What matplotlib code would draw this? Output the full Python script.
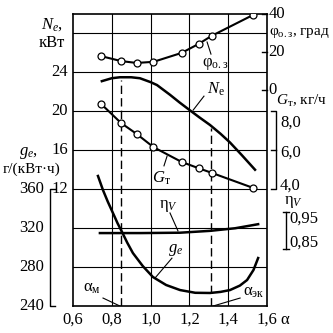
import matplotlib
matplotlib.use('Agg')
import matplotlib.pyplot as plt
import numpy as np

plt.rcParams['font.family'] = ['Liberation Serif', 'DejaVu Serif']
plt.rcParams['mathtext.fontset'] = 'custom'
plt.rcParams['mathtext.rm'] = 'Liberation Serif'
plt.rcParams['mathtext.it'] = 'Liberation Serif:italic'
plt.rcParams['mathtext.bf'] = 'Liberation Serif:bold'

# measured points (same alpha for phi and G_T)
alpha_pts = [0.745, 0.848, 0.928, 1.015, 1.16, 1.247, 1.315, 1.53]
phi_oz = [17.8, 15.2, 14.2, 14.8, 19.5, 24.2, 28.5, 39.6]      # deg
g_t = [8.38, 7.40, 6.84, 6.16, 5.40, 5.08, 4.84, 4.06]          # kg/h

alpha_ne = [0.749, 0.80, 0.842, 0.90, 0.945, 1.0, 1.033, 1.10, 1.15, 1.203, 1.25, 1.306, 1.36, 1.409, 1.47, 1.538]
ne = [23.1, 23.4, 23.5, 23.5, 23.4, 23.0, 22.7, 21.7, 20.9, 20.1, 19.4, 18.6, 17.7, 16.8, 15.5, 14.0]  # kW

alpha_ge = [0.729, 0.755, 0.78, 0.806, 0.83, 0.853, 0.88, 0.909, 0.96, 1.012, 1.08, 1.152, 1.23, 1.306, 1.36, 1.409, 1.46, 1.497, 1.53, 1.554]
ge = [373.6, 359, 347, 335.6, 325, 316, 305, 294.4, 281, 269.8, 261.6, 256.4, 253.6, 253.4, 254.5, 256.4, 261, 266.7, 277, 289.3]  # g/(kW h)

alpha_eta = [0.739, 0.95, 1.152, 1.306, 1.435, 1.554]
eta_v = [0.893, 0.893, 0.894, 0.899, 0.906, 0.917]

alpha_m = 0.848
alpha_ek = 1.31

x_ticks = [0.6, 0.8, 1.0, 1.2, 1.4, 1.6]
x_labels = ['0,6', '0,8', '1,0', '1,2', '1,4', '1,6']
ne_ticks = [12, 16, 20, 24]
ge_ticks = [240, 280, 320, 360]
phi_ticks = [0, 20, 40]
gt_ticks = [4.0, 6.0, 8.0]


# every scale is mapped onto one common grid unit (u), 0..7.5
def ne_u(v):
    return 3 + (np.asarray(v) - 12) / 4


def ge_u(v):
    return (np.asarray(v) - 240) / 40


def phi_u(v):
    return 5.55 + np.asarray(v) / 20 * 0.975


def gt_u(v):
    return 3 + (np.asarray(v) - 4) / 2


def eta_u(v):
    return 1.465 + (np.asarray(v) - 0.85) * 9.5


fig = plt.figure(figsize=(3.33, 3.33), dpi=100)
ax = fig.add_axes([0.219, 0.081, 0.583, 0.877])
ax.set_xlim(0.6, 1.6)
ax.set_ylim(0, 7.5)
ax.set_xticks([])
ax.set_yticks([])
for s in ax.spines.values():
    s.set_linewidth(1.2)

for xv in x_ticks[1:-1]:
    ax.axvline(xv, color='k', lw=0.8, zorder=1)
for yv in range(1, 8):
    ax.axhline(yv, color='k', lw=0.8, zorder=1)

lw = 1.8
ax.plot(alpha_pts, phi_u(phi_oz), 'o-', color='k', lw=1.5, ms=5, mfc='white', mec='k', mew=0.9, zorder=4)
ax.plot(alpha_pts, gt_u(g_t), 'o-', color='k', lw=1.5, ms=5, mfc='white', mec='k', mew=0.9, zorder=4)
ax.plot(alpha_ne, ne_u(ne), '-', color='k', lw=lw, zorder=3)
ax.plot(alpha_ge, ge_u(ge), '-', color='k', lw=lw, zorder=3)
ax.plot(alpha_eta, eta_u(eta_v), '-', color='k', lw=lw, zorder=3)

# dashed lines from the N_e curve down to alpha axis
for a, off in [(alpha_m, 0.08), (alpha_ek, 0.05)]:
    top = float(ne_u(np.interp(a, alpha_ne, ne))) - off
    ax.plot([a, a], [0, top], color='k', lw=1.0, ls=(0, (6, 3)), zorder=2)

fs = 12
# curve labels + leader lines
lbl = dict(ha='center', va='center', fontsize=fs, zorder=5)
ax.text(1.332, 6.22, r'$\mathrm{φ}_{\mathrm{о.з}}$', **lbl)
ax.plot([1.291, 1.311], [6.78, 6.47], color='k', lw=0.8)
ax.text(1.337, 5.57, r'$N_{\mathrm{e}}$', **lbl)
ax.plot([1.275, 1.219], [5.39, 5.03], color='k', lw=0.8)
ax.text(1.054, 3.29, r'$G_{\mathrm{т}}$', **lbl)
ax.plot([1.085, 1.069], [3.85, 3.60], color='k', lw=0.8)
ax.text(1.09, 2.57, r'$\mathrm{η}_{V}$', **lbl)
ax.plot([1.10, 1.141], [2.39, 1.93], color='k', lw=0.8)
ax.text(1.131, 1.44, r'$g_e$', **lbl)
ax.plot([1.110, 1.023], [1.23, 0.72], color='k', lw=0.8)
ax.text(0.698, 0.46, r'$\mathrm{α}_{\mathrm{м}}$', **lbl)
ax.plot([0.755, 0.842], [0.205, 0.0], color='k', lw=0.8)
ax.text(1.533, 0.36, r'$\mathrm{α}_{\mathrm{эк}}$', **lbl)
ax.plot([1.461, 1.322], [0.205, 0.0], color='k', lw=0.8)

out = dict(fontsize=fs, clip_on=False)
# x axis
for xv, t in zip(x_ticks, x_labels):
    ax.text(xv, -0.36, t, ha='center', va='center', **out)
ax.text(1.693, -0.36, 'α', ha='center', va='center', **out)

# left: N_e
ax.text(0.49, 7.22, r'$N_e$,', ha='center', va='center', **out)
ax.text(0.49, 6.76, 'кВт', ha='center', va='center', **out)
for v in ne_ticks:
    ax.text(0.574, ne_u(v), str(v), ha='right', va='center', **out)

# left: g_e bracket
ax.text(0.373, 3.93, r'$g_e$,', ha='center', va='center', **out)
ax.text(0.385, 3.50, 'г/(кВт·ч)', ha='center', va='center', fontsize=11, clip_on=False)
ax.plot([0.507, 0.481, 0.481, 0.507], [ge_u(360), ge_u(360), ge_u(240), ge_u(240)],
        color='k', lw=1.0, clip_on=False)
for v in ge_ticks:
    ax.text(0.45, ge_u(v), str(v), ha='right', va='center', **out)

# right: phi
ax.text(1.608, 7.01, r'$\mathrm{φ}_{\mathrm{о.з}}$, град', ha='left', va='center', fontsize=11, clip_on=False)
for v in phi_ticks:
    ax.plot([1.574, 1.6], [phi_u(v), phi_u(v)], color='k', lw=1.0, clip_on=False)
    ax.text(1.606, phi_u(v), str(v), ha='left', va='center', **out)

# right: G_T bracket
ax.text(1.646, 5.27, r'$G_{\mathrm{т}}$, кг/ч', ha='left', va='center', fontsize=11, clip_on=False)
ax.plot([1.62, 1.646, 1.646, 1.62], [gt_u(8), gt_u(8), gt_u(4), gt_u(4)],
        color='k', lw=1.0, clip_on=False)
ax.plot([1.62, 1.646], [gt_u(6), gt_u(6)], color='k', lw=1.0, clip_on=False)
ax.text(1.667, gt_u(8) - 0.30, '8,0', ha='left', va='center', **out)
ax.text(1.667, gt_u(6) - 0.07, '6,0', ha='left', va='center', **out)
ax.text(1.667, gt_u(4) + 0.08, '4,0', ha='left', va='center', **out)

# right: eta_V bracket
ax.text(1.734, 2.67, r'$\mathrm{η}_{V}$', ha='center', va='center', **out)
ax.plot([1.698, 1.698], [eta_u(0.85), eta_u(0.95)], color='k', lw=1.0, clip_on=False)
for v in (0.85, 0.95):
    ax.plot([1.683, 1.713], [eta_u(v), eta_u(v)], color='k', lw=1.0, clip_on=False)
ax.text(1.716, eta_u(0.95) - 0.18, '0,95', ha='left', va='center', **out)
ax.text(1.716, eta_u(0.85) + 0.16, '0,85', ha='left', va='center', **out)

fig.savefig('out.png', dpi=100)
